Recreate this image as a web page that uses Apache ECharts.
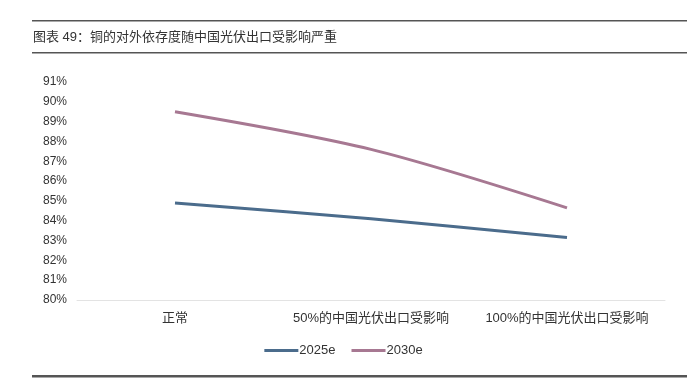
<!DOCTYPE html>
<html>
<head>
<meta charset="utf-8">
<script src="https://cdn.jsdelivr.net/npm/echarts@6/dist/echarts.min.js"></script>
<style>
  html, body {margin: 0; padding: 0; background: #fff;}
  #chart {width: 687px; height: 381px;}
</style>
</head>
<body>
<div id="chart"></div>
<script>
// 数据整理
let categories = ['正常', '50%的中国光伏出口受影响', '100%的中国光伏出口受影响'];
let series2025 = [84.9, 84.1, 83.15];
let series2030 = [89.5, 87.6, 84.65];
let seriesNames = ['2025e', '2030e'];
let yMin = 80, yMax = 91, yStep = 1;

let font = '"Liberation Sans", "Noto Sans CJK SC", sans-serif';
let colors = ['#4B6C8C', '#A77892'];

let myChart = echarts.init(document.getElementById('chart'));
myChart.setOption({
  animation: false,
  textStyle: {fontFamily: font},
  graphic: [
    {type: 'rect', shape: {x: 32, y: 20, width: 655, height: 1.5}, style: {fill: '#555'}},
    {type: 'text', left: 33, top: 31, style: {text: '图表 49：铜的对外依存度随中国光伏出口受影响严重', fontSize: 13, fill: '#333', fontFamily: font}},
    {type: 'rect', shape: {x: 32, y: 52, width: 655, height: 1.5}, style: {fill: '#555'}},
    {type: 'rect', shape: {x: 32, y: 375, width: 655, height: 2.5}, style: {fill: '#555'}}
  ],
  grid: {left: 77, right: 22, top: 82, bottom: 81},
  legend: {
    data: seriesNames,
    top: 339,
    left: 'center',
    icon: 'rect',
    itemWidth: 34,
    itemHeight: 3,
    itemGap: 16,
    textStyle: {fontSize: 13, color: '#333', padding: [0, 0, 0, -4]}
  },
  xAxis: {
    type: 'category',
    data: categories,
    axisTick: {show: false},
    axisLine: {lineStyle: {color: '#e3e3e3', width: 1}},
    axisLabel: {color: '#333', fontSize: 13, margin: 12, interval: 0, hideOverlap: false}
  },
  yAxis: {
    type: 'value',
    min: yMin,
    max: yMax,
    interval: yStep,
    splitLine: {show: false},
    axisLine: {show: false},
    axisTick: {show: false},
    axisLabel: {color: '#333', fontSize: 12, margin: 10, formatter: '{value}%'}
  },
  series: [{
    name: seriesNames[0],
    type: 'line',
    smooth: 0.3,
    symbol: 'none',
    lineStyle: {width: 3, color: colors[0]},
    itemStyle: {color: colors[0]},
    data: series2025
  }, {
    name: seriesNames[1],
    type: 'line',
    smooth: 0.3,
    symbol: 'none',
    lineStyle: {width: 3, color: colors[1]},
    itemStyle: {color: colors[1]},
    data: series2030
  }]
});
</script>
</body>
</html>
